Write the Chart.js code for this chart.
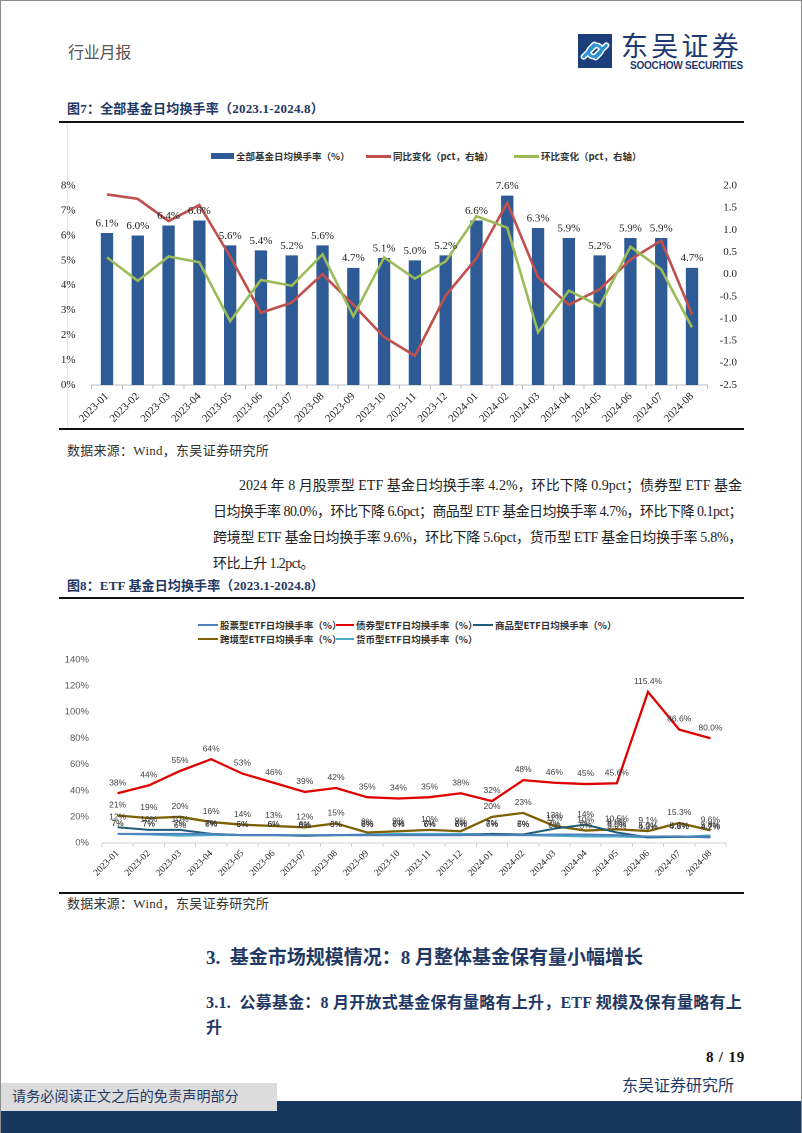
<!DOCTYPE html>
<html>
<head>
<meta charset="utf-8">
<script src="https://cdn.jsdelivr.net/npm/chart.js@4.4.1/dist/chart.umd.min.js"></script>
<style>
  html, body { margin: 0; padding: 0; background: #fff; }
  #page { position: relative; width: 802px; height: 1133px; overflow: hidden; box-sizing: border-box;
          border: 1px solid #8c8c8c; border-bottom: none;
          font-family: "Liberation Serif", "Noto Sans CJK SC", serif; color: #222; }
  .t { position: absolute; white-space: nowrap; display: inline-block; }
  .rule { position: absolute; left: 58px; width: 685px; height: 2px; background: #111; }
  .navy { color: #1f3864; }
  .lg { position: absolute; font-size: 9.5px; font-weight: bold; color: #333; white-space: nowrap;
        font-family: "Noto Sans CJK SC", sans-serif; line-height: 12px; }
  .sw { position: absolute; }
</style>
</head>
<body>
<div id="page">
  <div class="t" data-w="63" style="left:67px;top:41px;font-size:16px;line-height:22px;color:#555;">行业月报</div>

  <svg style="position:absolute;left:577px;top:33px" width="34" height="34" viewBox="0 0 34 34">
    <rect width="34" height="34" fill="#1c3f7c"/>
    <g transform="rotate(-45 17 17)" fill="none" stroke-linecap="round">
      <path d="M5 13 H19 A4.5 4.5 0 0 1 19 22 H13" stroke="#ffffff" stroke-width="6"/>
      <path d="M29 21 H15 A4.5 4.5 0 0 1 15 12 H21" stroke="#ffffff" stroke-width="6"/>
      <path d="M5 13 H19 A4.5 4.5 0 0 1 19 22 H13" stroke="#2b92d6" stroke-width="3"/>
      <path d="M29 21 H15 A4.5 4.5 0 0 1 15 12 H21" stroke="#2b92d6" stroke-width="3"/>
    </g>
  </svg>
  <div class="t" data-w="121" style="left:620px;top:30px;font-size:27px;line-height:28px;color:#1f3a70;font-family:'Noto Sans CJK SC',sans-serif;">东吴证券</div>
  <div class="t" data-w="113" style="left:629px;top:59px;font-size:10px;line-height:11px;font-weight:bold;color:#1f3a70;font-family:'Liberation Sans',sans-serif;">SOOCHOW SECURITIES</div>

  <div class="t navy" data-w="257" style="left:66px;top:99px;font-size:13px;line-height:18px;font-weight:bold;">图7：全部基金日均换手率（2023.1-2024.8）</div>
  <div class="rule" style="top:120px;"></div>
  <div style="position:absolute;left:66px;top:122px;width:1px;height:305px;background:#e6e6e6;"></div>

  <div id="legend1"></div>
  <canvas id="chart1" width="690" height="258" style="position:absolute;left:60px;top:170px;"></canvas>
  <div class="rule" style="top:427px;"></div>

  <div class="t" data-w="202" style="left:66px;top:441px;font-size:13px;line-height:18px;color:#333;">数据来源：Wind，东吴证券研究所</div>

  <div class="t" data-w="503" style="left:238px;top:475px;font-size:14px;line-height:19px;">2024 年 8 月股票型 ETF 基金日均换手率 4.2%，环比下降 0.9pct；债券型 ETF 基金</div>
  <div class="t" data-w="529" style="left:212px;top:501px;font-size:14px;line-height:19px;">日均换手率 80.0%，环比下降 6.6pct；商品型 ETF 基金日均换手率 4.7%，环比下降 0.1pct；</div>
  <div class="t" data-w="529" style="left:212px;top:527px;font-size:14px;line-height:19px;">跨境型 ETF 基金日均换手率 9.6%，环比下降 5.6pct，货币型 ETF 基金日均换手率 5.8%，</div>
  <div class="t" data-w="101" style="left:212px;top:553px;font-size:14px;line-height:19px;">环比上升 1.2pct。</div>

  <div class="t navy" data-w="257" style="left:66px;top:576px;font-size:13px;line-height:18px;font-weight:bold;">图8：ETF 基金日均换手率（2023.1-2024.8）</div>
  <div class="rule" style="top:596px;"></div>

  <div id="legend2"></div>
  <canvas id="chart2" width="690" height="240" style="position:absolute;left:58px;top:648px;"></canvas>
  <div class="rule" style="top:891px;"></div>

  <div class="t" data-w="202" style="left:66px;top:894px;font-size:13px;line-height:18px;color:#333;">数据来源：Wind，东吴证券研究所</div>

  <div class="t navy" data-w="437" style="left:205px;top:944px;font-size:19px;line-height:26px;font-weight:bold;">3.&nbsp;&nbsp;基金市场规模情况：8 月整体基金保有量小幅增长</div>
  <div class="t navy" data-w="536" style="left:205px;top:991px;font-size:16px;line-height:22px;font-weight:bold;">3.1.&nbsp;&nbsp;公募基金：8 月开放式基金保有量略有上升，ETF 规模及保有量略有上</div>
  <div class="t navy" style="left:205px;top:1016px;font-size:16px;line-height:22px;font-weight:bold;">升</div>

  <div class="t" data-w="39" style="left:705px;top:1046px;font-size:15px;line-height:20px;font-weight:bold;color:#111;">8 / 19</div>
  <div class="t navy" data-w="112" style="left:621px;top:1074px;font-size:16px;line-height:22px;">东吴证券研究所</div>

  <div style="position:absolute;left:0;top:1100px;width:802px;height:33px;background:#17375e;"></div>
  <div style="position:absolute;left:0;top:1082px;width:276px;height:28px;background:#dcdcdc;"></div>
  <div class="t navy" data-w="227" style="left:11px;top:1086px;font-size:14px;line-height:19px;">请务必阅读正文之后的免责声明部分</div>
</div>

<script>
// ---- data ----
const months = ['2023-01', '2023-02', '2023-03', '2023-04', '2023-05', '2023-06', '2023-07', '2023-08',
                '2023-09', '2023-10', '2023-11', '2023-12', '2024-01', '2024-02', '2024-03', '2024-04',
                '2024-05', '2024-06', '2024-07', '2024-08'];

// 图7
const allFundTurnover = [6.1, 6.0, 6.4, 6.6, 5.6, 5.4, 5.2, 5.6, 4.7, 5.1, 5.0, 5.2, 6.6, 7.6, 6.3, 5.9, 5.2, 5.9, 5.9, 4.7];
const yoyChange = [1.8, 1.7, 1.2, 1.56, 0.4, -0.87, -0.64, 0.0, -0.69, -1.42, -1.84, -0.48, 0.36, 1.61, -0.07, -0.69, -0.34, 0.33, 0.76, -0.91];
const momChange = [0.38, -0.15, 0.4, 0.27, -1.06, -0.13, -0.26, 0.45, -0.95, 0.38, -0.1, 0.29, 1.31, 1.05, -1.31, -0.37, -0.72, 0.62, 0.11, -1.2];
const leftTicks = [0, 1, 2, 3, 4, 5, 6, 7, 8];
const rightTicks = [-2.5, -2.0, -1.5, -1.0, -0.5, 0.0, 0.5, 1.0, 1.5, 2.0];
const chart1Names = ['全部基金日均换手率（%）', '同比变化（pct，右轴）', '环比变化（pct，右轴）'];

// 图8
const stockEtf = [7, 7, 7, 7, 6, 6, 6, 6, 6, 6, 6, 6, 6, 6, 6.5, 6.5, 6, 5, 5.1, 4.2];
const bondEtf = [38, 44, 55, 64, 53, 46, 39, 42, 35, 34, 35, 38, 32, 48, 46, 45, 45.6, 115.4, 86.6, 80.0];
const commodityEtf = [12, 10, 10, 7, 6, 6, 5.5, 6, 6, 6, 6, 6, 7, 6.5, 11, 14, 8, 4.3, 4.8, 4.7];
const crossBorderEtf = [21, 19, 20, 16, 14, 13, 12, 15, 8, 9, 10, 9, 20, 23, 13, 9.5, 10.5, 9.1, 15.3, 9.6];
const moneyEtf = [7, 6.5, 5.5, 6, 6, 6, 5.5, 6, 6.5, 7, 7, 7, 6.5, 6, 5.5, 5, 5, 4.3, 4.6, 5.8];
const etfTicks = [0, 20, 40, 60, 80, 100, 120, 140];
const chart2Names = ['股票型ETF日均换手率（%）', '债券型ETF日均换手率（%）', '商品型ETF日均换手率（%）',
                     '跨境型ETF日均换手率（%）', '货币型ETF日均换手率（%）'];

const c1Colors = ['#2e5a96', '#c0504d', '#9bbb59'];
const c2Colors = ['#4f81bd', '#e00000', '#1f5c78', '#7f6000', '#4bacc6'];

// stretch text to the width measured on the reference
document.querySelectorAll('[data-w]').forEach(el => {
    const w = parseFloat(el.dataset.w);
    const n = el.textContent.length;
    const actual = el.getBoundingClientRect().width;
    el.style.letterSpacing = ((w - actual) / n) + 'px';
});

// html legends
function addLegend(holderId, items) {
    const holder = document.getElementById(holderId);
    items.forEach(it => {
        const sw = document.createElement('div');
        sw.className = 'sw';
        sw.style.cssText = `left:${it.x}px;top:${it.y - it.h / 2}px;width:${it.w}px;height:${it.h}px;background:${it.color};`;
        holder.appendChild(sw);
        const tx = document.createElement('div');
        tx.className = 'lg';
        tx.textContent = it.name;
        tx.style.left = (it.x + it.w + 2) + 'px';
        tx.style.top = (it.y - 6) + 'px';
        holder.appendChild(tx);
    });
}
addLegend('legend1', [
    { x: 210, y: 155, w: 23, h: 6, color: c1Colors[0], name: chart1Names[0] },
    { x: 365, y: 155, w: 25, h: 3, color: c1Colors[1], name: chart1Names[1] },
    { x: 513, y: 155, w: 25, h: 3, color: c1Colors[2], name: chart1Names[2] }
]);
addLegend('legend2', [
    { x: 197, y: 624, w: 20, h: 2, color: c2Colors[0], name: chart2Names[0] },
    { x: 335, y: 624, w: 18, h: 2, color: c2Colors[1], name: chart2Names[1] },
    { x: 472, y: 624, w: 20, h: 2, color: c2Colors[2], name: chart2Names[2] },
    { x: 197, y: 638, w: 20, h: 2, color: c2Colors[3], name: chart2Names[3] },
    { x: 335, y: 638, w: 18, h: 2, color: c2Colors[4], name: chart2Names[4] }
]);

// value labels above points / bars
const valueLabels = {
    id: 'valueLabels',
    afterDatasetsDraw(chart, args, opts) {
        const ctx = chart.ctx;
        ctx.save();
        ctx.font = opts.font;
        ctx.fillStyle = opts.color;
        ctx.textAlign = 'center';
        ctx.textBaseline = 'bottom';
        chart.data.datasets.forEach((ds, di) => {
            if (opts.only && !opts.only.includes(di)) return;
            chart.getDatasetMeta(di).data.forEach((el, i) => {
                ctx.fillText(opts.format(ds.data[i], i), el.x, el.y - opts.offset);
            });
        });
        ctx.restore();
    }
};

const serif = '"Liberation Serif", "Times New Roman", serif';

// ---- 图7 ----
new Chart(document.getElementById('chart1'), {
    data: {
        labels: months,
        datasets: [
            { type: 'bar', label: chart1Names[0], data: allFundTurnover, backgroundColor: c1Colors[0],
              yAxisID: 'y', categoryPercentage: 1, barPercentage: 0.4, order: 2 },
            { type: 'line', label: chart1Names[1], data: yoyChange, borderColor: c1Colors[1], borderWidth: 2.6,
              pointRadius: 0, tension: 0, yAxisID: 'y1', order: 1 },
            { type: 'line', label: chart1Names[2], data: momChange, borderColor: c1Colors[2], borderWidth: 2.6,
              pointRadius: 0, tension: 0, yAxisID: 'y1', order: 0 }
        ]
    },
    options: {
        responsive: false,
        animation: false,
        devicePixelRatio: 2,
        layout: { padding: { top: 8, right: 14, left: 0, bottom: 0 } },
        plugins: {
            legend: { display: false },
            tooltip: { enabled: false },
            valueLabels: { only: [0], font: '11px ' + serif, color: '#222', offset: 4,
                           format: v => v.toFixed(1) + '%' }
        },
        scales: {
            x: {
                offset: true,
                grid: { display: true, drawOnChartArea: false, drawTicks: true, tickLength: 4, offset: true, color: '#bfbfbf' },
                border: { color: '#bfbfbf' },
                ticks: { autoSkip: false, minRotation: 45, maxRotation: 45, padding: 1,
                         font: { family: serif, size: 11 }, color: '#222' },
                afterFit: s => { s.height = 44; }
            },
            y: {
                position: 'left', min: 0, max: 8,
                grid: { display: false }, border: { display: false },
                afterBuildTicks: s => { s.ticks = leftTicks.map(v => ({ value: v })); },
                ticks: { padding: 8, font: { family: serif, size: 11 }, color: '#222', callback: v => v + '%' },
                afterFit: s => { s.width = 30.6; }
            },
            y1: {
                position: 'right', min: -2.5, max: 2.0,
                grid: { display: false }, border: { display: false },
                afterBuildTicks: s => { s.ticks = rightTicks.map(v => ({ value: v })); },
                ticks: { crossAlign: 'far', padding: 4, font: { family: serif, size: 11 }, color: '#222',
                         callback: v => v.toFixed(1) },
                afterFit: s => { s.width = 29.6; }
            }
        }
    },
    plugins: [valueLabels]
});

// ---- 图8 ----
const etfSeries = [stockEtf, bondEtf, commodityEtf, crossBorderEtf, moneyEtf];
new Chart(document.getElementById('chart2'), {
    type: 'line',
    data: {
        labels: months,
        datasets: etfSeries.map((d, i) => ({
            label: chart2Names[i], data: d, borderColor: c2Colors[i], borderWidth: i === 1 || i === 3 ? 2.3 : 2,
            pointRadius: 0, tension: 0, order: i === 1 ? 0 : 1
        }))
    },
    options: {
        responsive: false,
        animation: false,
        devicePixelRatio: 2,
        layout: { padding: { top: 9, right: 23, left: 0, bottom: 0 } },
        plugins: {
            legend: { display: false },
            tooltip: { enabled: false },
            valueLabels: { font: '8.5px "Liberation Sans", Arial, sans-serif', color: '#404040', offset: 6,
                           format: (v, i) => (i >= 16 ? v.toFixed(1) : Math.round(v)) + '%' }
        },
        scales: {
            x: {
                offset: true,
                grid: { display: true, drawOnChartArea: false, drawTicks: true, tickLength: 4, offset: true, color: '#d0d0d0' },
                border: { color: '#d0d0d0' },
                ticks: { autoSkip: false, minRotation: 45, maxRotation: 45, padding: 1,
                         font: { family: serif, size: 9.5 }, color: '#222' },
                afterFit: s => { s.height = 46; }
            },
            y: {
                min: 0, max: 140,
                grid: { display: false }, border: { display: false },
                afterBuildTicks: s => { s.ticks = etfTicks.map(v => ({ value: v })); },
                ticks: { padding: 5, font: { family: '"Liberation Sans", Arial, sans-serif', size: 9.5 }, color: '#595959',
                         callback: v => v + '%' },
                afterFit: s => { s.width = 43; }
            }
        }
    },
    plugins: [valueLabels]
});
</script>
</body>
</html>
